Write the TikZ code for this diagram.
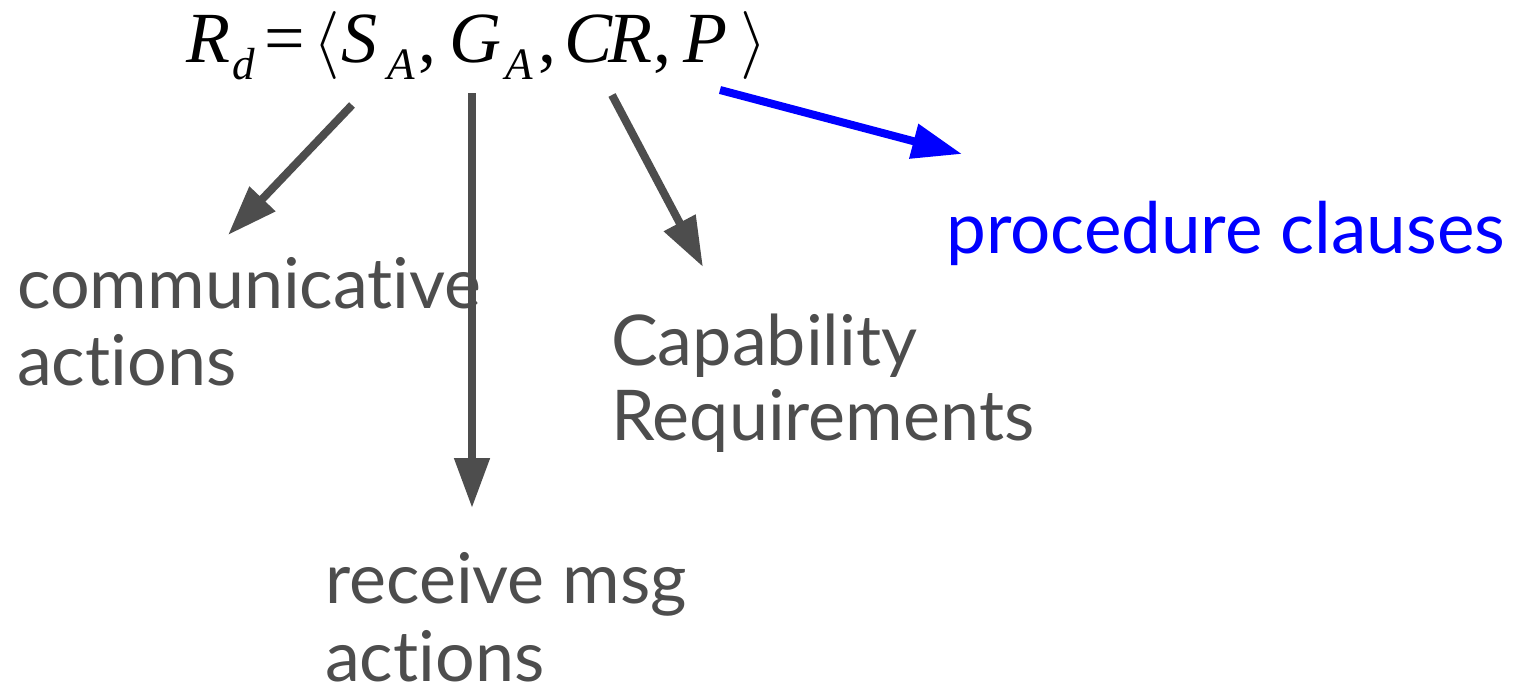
\documentclass[tikz,border=0pt]{standalone}
\usepackage{graphicx}
\usepackage{fontspec}
\setmainfont{Lato}[Ligatures=NoCommon, RawFeature={-dlig}]
\newfontfamily\tms{Liberation Serif}
\usetikzlibrary{arrows.meta}
\definecolor{inkgray}{RGB}{77,77,77}
\definecolor{pureblue}{RGB}{0,0,255}
\tikzset{
  lbl/.style={inner sep=0pt, anchor=base west, text=inkgray,
    font=\fontsize{70}{76}\selectfont},
  ptr/.style={line width=8pt, draw=inkgray,
    -{Triangle[length=50pt,width=34pt,fill=inkgray]}},
}
% place #2 at horizontal offset #1 (pt) from the start of the line
\newcommand{\putat}[2]{\rlap{\hspace{#1pt}#2}}
\newcommand{\subsc}[1]{\raisebox{-17pt}{\fontsize{45}{45}\selectfont\tms\itshape #1}}
\newcommand{\bigang}[1]{{\fontsize{10}{12}\selectfont\scalebox{6.8}{$#1$}}}
\begin{document}
\begin{tikzpicture}[x=1pt,y=-1pt]
\useasboundingbox (0,0) rectangle (1528,685);
% the tuple
\node[inner sep=0pt, anchor=base west, font=\fontsize{72}{76}\selectfont\tms] (tuple) at (186,63)
  {\putat{0}{\itshape R}\putat{46}{\subsc{d}}\putat{78}{=}\putat{127}{\bigang{\langle}}%
   \putat{155}{\itshape S}\putat{201}{\subsc{A}}\putat{232}{,}%
   \putat{263}{\itshape G}\putat{319}{\subsc{A}}\putat{352}{,}%
   \putat{378}{\itshape C}\putat{422}{\itshape R}\putat{467}{,}%
   \putat{497}{\itshape P}\putat{554}{\bigang{\rangle}}\hspace{575pt}};
% labels
\node[lbl] (comm1) at (17,308) {communicative};
\node[lbl] (comm2) at (17,385) {actions};
\node[lbl] (cap1) at (611,365) {Capability};
\node[lbl] (cap2) at (611,440) {Requirements};
\node[lbl] (recv1) at (325,603) {receive msg};
\node[lbl] (recv2) at (325,681) {actions};
\node[lbl, text=pureblue, font=\fontsize{71}{76}\selectfont] (proc) at (946,253) {procedure clauses};
% arrow ends
\coordinate (sS) at (352,105);  \coordinate (tS) at (228,235);
\coordinate (sG) at (472,93);   \coordinate (tG) at (472,508);
\coordinate (sC) at (612,95);   \coordinate (tC) at (703,267);
\coordinate (sP) at (720,90);   \coordinate (tP) at (962,154);
\draw[ptr] (sS) -- (tS);
\draw[ptr] (sG) -- (tG);
\draw[ptr] (sC) -- (tC);
\draw[ptr, draw=pureblue, -{Triangle[length=50pt,width=34pt,fill=pureblue]}] (sP) -- (tP);
\end{tikzpicture}
\end{document}
